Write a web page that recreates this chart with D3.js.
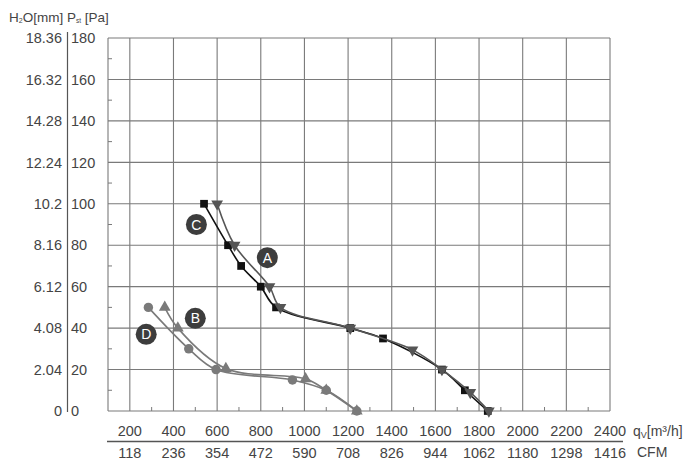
<!DOCTYPE html>
<html>
<head>
<meta charset="utf-8">
<script src="https://cdn.jsdelivr.net/npm/d3@7"></script>
<style>
  body { margin: 0; background: #fff; }
  svg { font-family: "Liberation Sans", Arial, sans-serif; }
</style>
</head>
<body>
<div id="chart"></div>
<script>
// flow ticks (m3/h) and matching CFM labels
const flowTicks = [200, 400, 600, 800, 1000, 1200, 1400, 1600, 1800, 2000, 2200, 2400];
const cfmLabels = ['118', '236', '354', '472', '590', '708', '826', '944', '1062', '1180', '1298', '1416'];
const flowMinor = [300, 500, 700, 900, 1100, 1300, 1500, 1700, 1900, 2100, 2300];

// pressure ticks (Pa) and matching mm H2O labels
const paTicks = [0, 20, 40, 60, 80, 100, 120, 140, 160, 180];
const mmLabels = ['0', '2.04', '4.08', '6.12', '8.16', '10.2', '12.24', '14.28', '16.32', '18.36'];
const paMinor = [10, 30, 50, 70, 90, 110, 130, 150, 170];

// curves: [flow m3/h, pressure Pa]
const curveA = [[600, 100], [680, 80], [840, 60], [890, 50], [1210, 40], [1495, 29.5], [1630, 20], [1760, 9], [1845, 0]];
const curveB = [[360, 50], [420, 40], [640, 20.5], [1005, 15.5], [1100, 10], [1240, 0]];
const curveC = [[540, 100], [650, 80], [710, 70], [800, 60], [870, 50], [1210, 40], [1360, 35], [1630, 20], [1735, 10], [1840, 0]];
const curveD = [[285, 50], [470, 30], [595, 20], [945, 15], [1100, 10], [1240, 0]];

// curve name badges: [name, flow, pressure]
const badges = [['C', 505, 90], ['A', 830, 74], ['B', 500, 44.7], ['D', 275, 37]];

const svg = d3.select('#chart').append('svg')
    .attr('width', 700)
    .attr('height', 475);

const x = d3.scaleLinear().domain([100, 2400]).range([108, 610]);
const y = d3.scaleLinear().domain([0, 180]).range([411, 38]);

const textColor = '#444';
const gridColor = '#7a7a7a';

// grid
svg.append('g').selectAll('line')
    .data(flowTicks)
    .join('line')
    .attr('x1', d => x(d)).attr('x2', d => x(d))
    .attr('y1', y(0)).attr('y2', y(180))
    .attr('stroke', gridColor).attr('stroke-width', 1.1);

svg.append('g').selectAll('line')
    .data(paTicks)
    .join('line')
    .attr('x1', x(100)).attr('x2', x(2400))
    .attr('y1', d => y(d)).attr('y2', d => y(d))
    .attr('stroke', gridColor).attr('stroke-width', 1.1);

svg.append('line')
    .attr('x1', x(100)).attr('x2', x(100))
    .attr('y1', y(0)).attr('y2', y(180))
    .attr('stroke', gridColor).attr('stroke-width', 1.1);

// minor ticks
svg.append('g').selectAll('line')
    .data(flowMinor)
    .join('line')
    .attr('x1', d => x(d)).attr('x2', d => x(d))
    .attr('y1', y(0)).attr('y2', y(0) - 4)
    .attr('stroke', gridColor);

svg.append('g').selectAll('line')
    .data(paMinor)
    .join('line')
    .attr('x1', x(100)).attr('x2', x(100) + 4)
    .attr('y1', d => y(d)).attr('y2', d => y(d))
    .attr('stroke', gridColor);

// left labels
const left = svg.append('g')
    .attr('font-size', 14.5)
    .attr('fill', textColor);

left.selectAll('.mm')
    .data(paTicks)
    .join('text')
    .attr('class', 'mm')
    .attr('x', 62)
    .attr('y', d => y(d))
    .attr('dy', '0.36em')
    .attr('text-anchor', 'end')
    .text((d, i) => mmLabels[i]);

left.selectAll('.pa')
    .data(paTicks)
    .join('text')
    .attr('class', 'pa')
    .attr('x', 71)
    .attr('y', d => y(d))
    .attr('dy', '0.36em')
    .text(d => d);

svg.append('line')
    .attr('x1', 67.5).attr('x2', 67.5)
    .attr('y1', 32).attr('y2', 412)
    .attr('stroke', '#555').attr('stroke-width', 1.2);

// header
const head = svg.append('text')
    .attr('x', 9).attr('y', 22)
    .attr('font-size', 13.5)
    .attr('fill', textColor);
head.append('tspan').text('H');
head.append('tspan').attr('font-size', 7).attr('dy', 1).text('2');
head.append('tspan').attr('dy', -1).text('O[mm]  P');
head.append('tspan').attr('font-size', 6.5).attr('dy', 1).text('st');
head.append('tspan').attr('dy', -1).text(' [Pa]');

// bottom labels
const bottom = svg.append('g')
    .attr('font-size', 14.5)
    .attr('fill', textColor)
    .attr('text-anchor', 'middle');

bottom.selectAll('.q')
    .data(flowTicks)
    .join('text')
    .attr('class', 'q')
    .attr('x', d => x(d))
    .attr('y', 436)
    .text(d => d);

bottom.selectAll('.cfm')
    .data(flowTicks)
    .join('text')
    .attr('class', 'cfm')
    .attr('x', d => x(d))
    .attr('y', 458)
    .text((d, i) => cfmLabels[i]);

svg.append('line')
    .attr('x1', 107).attr('x2', 623)
    .attr('y1', 441.5).attr('y2', 441.5)
    .attr('stroke', '#555').attr('stroke-width', 1.3);

const qLabel = svg.append('text')
    .attr('x', 633).attr('y', 436)
    .attr('font-size', 14)
    .attr('fill', textColor);
qLabel.append('tspan').text('q');
qLabel.append('tspan').attr('font-size', 9).attr('dy', 2).text('V');
qLabel.append('tspan').attr('dy', -2).text('[m³/h]');

svg.append('text')
    .attr('x', 637).attr('y', 457)
    .attr('font-size', 14)
    .attr('fill', textColor)
    .text('CFM');

// curves
const line = d3.line()
    .x(d => x(d[0]))
    .y(d => y(d[1]))
    .curve(d3.curveCatmullRom.alpha(0.5));

const series = [
    { data: curveD, color: '#7a7a7a', shape: d3.symbolCircle, size: 70, rotate: 0 },
    { data: curveB, color: '#7a7a7a', shape: d3.symbolTriangle, size: 60, rotate: 0 },
    { data: curveC, color: '#111111', shape: d3.symbolSquare, size: 60, rotate: 0 },
    { data: curveA, color: '#555555', shape: d3.symbolTriangle, size: 60, rotate: 180 }
];

series.forEach(s => {
    svg.append('path')
        .attr('d', line(s.data))
        .attr('fill', 'none')
        .attr('stroke', s.color)
        .attr('stroke-width', 1.6);

    svg.append('g').selectAll('path')
        .data(s.data)
        .join('path')
        .attr('d', d3.symbol().type(s.shape).size(s.size))
        .attr('transform', d => `translate(${x(d[0])},${y(d[1])}) rotate(${s.rotate})`)
        .attr('fill', s.color);
});

// badges
const badge = svg.append('g').selectAll('g')
    .data(badges)
    .join('g')
    .attr('transform', d => `translate(${x(d[1])},${y(d[2])})`);

badge.append('circle')
    .attr('r', 10.5)
    .attr('fill', '#3d3d3d');

badge.append('text')
    .attr('text-anchor', 'middle')
    .attr('dy', '0.36em')
    .attr('font-size', 14)
    .attr('fill', '#fff')
    .text(d => d[0]);
</script>
</body>
</html>
